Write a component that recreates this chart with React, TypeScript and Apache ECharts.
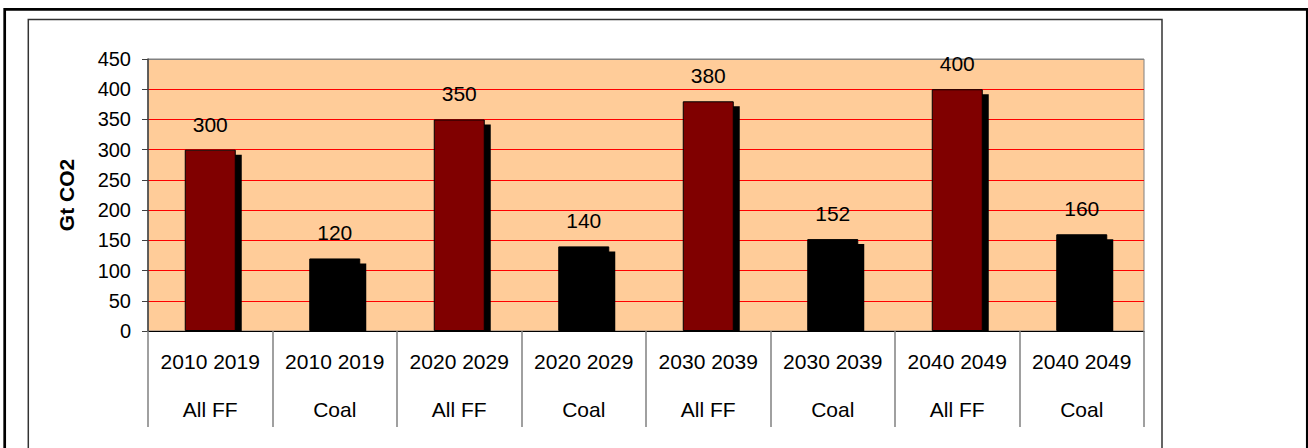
import React, { useEffect, useRef } from "react";
import * as echarts from "echarts";

const periods = ["2010 2019", "2010 2019", "2020 2029", "2020 2029", "2030 2039", "2030 2039", "2040 2049", "2040 2049"];
const fuels = ["All FF", "Coal", "All FF", "Coal", "All FF", "Coal", "All FF", "Coal"];
const values = [300, 120, 350, 140, 380, 152, 400, 160];
const fuelColors: Record<string, string> = { "All FF": "#800000", Coal: "#000000" };
const yTicks = { min: 0, max: 450, interval: 50 };

const FONT = 'Arial, "Liberation Sans", sans-serif';
const BAR_W = 51;
const SH_X = 6;
const SH_Y = 5;

export default function App() {
  const ref = useRef<HTMLDivElement>(null);
  useEffect(() => {
    if (!ref.current) return;
    const chart = echarts.init(ref.current, undefined, { renderer: "svg" });
    const splitColors = ["#000000", "#FF0000", "#FF0000", "#FF0000", "#FF0000", "#FF0000", "#FF0000", "#FF0000", "#FF0000", "#808080"];
    chart.setOption({
      animation: false,
      backgroundColor: "#ffffff",
      textStyle: { fontFamily: FONT },
      graphic: [
        { type: "rect", shape: { x: 4.7, y: 9.3, width: 1302.6, height: 500 }, style: { fill: "none", stroke: "#000", lineWidth: 2.7 }, z: 0 },
        { type: "rect", shape: { x: 28.3, y: 19.5, width: 1133.7, height: 500 }, style: { fill: "none", stroke: "#333", lineWidth: 1.5 }, z: 0 },
      ],
      grid: {
        left: 148, right: 164, top: 59, bottom: 117,
        show: true, backgroundColor: "#FFCC99", borderColor: "#808080", borderWidth: 1,
      },
      xAxis: [
        {
          type: "category",
          data: periods.map((p, i) => p + "|" + i),
          axisLine: { lineStyle: { color: "#000", width: 1 } },
          axisTick: { show: true, interval: 0, length: 96, lineStyle: { color: "#808080", width: 1.5 } },
          axisLabel: { interval: 0, margin: 20, fontSize: 21, color: "#000", fontFamily: FONT, formatter: (v: string) => v.split("|")[0] },
        },
        {
          type: "category",
          position: "bottom",
          data: fuels.map((f, i) => f + "|" + i),
          axisLine: { show: false },
          axisTick: { show: false },
          axisLabel: { interval: 0, margin: 68, fontSize: 21, color: "#000", fontFamily: FONT, formatter: (v: string) => v.split("|")[0] },
        },
      ],
      yAxis: {
        type: "value",
        min: yTicks.min, max: yTicks.max, interval: yTicks.interval,
        name: "Gt CO2",
        nameLocation: "middle",
        nameGap: 71,
        nameTextStyle: { fontSize: 21, fontWeight: "bold", color: "#000", fontFamily: FONT },
        axisLine: { show: true, lineStyle: { color: "#404040", width: 1.5 } },
        axisTick: { show: true, length: 6, lineStyle: { color: "#404040" } },
        axisLabel: { margin: 17, fontSize: 20, color: "#000", fontFamily: FONT },
        splitLine: { show: true, lineStyle: { color: splitColors, width: 1 } },
      },
      series: [
        {
          type: "custom",
          xAxisIndex: 0,
          z: 1,
          silent: true,
          data: values.map((v, i) => [i, v]),
          renderItem: (params: any, api: any) => {
            const i = api.value(0);
            const v = api.value(1);
            const top = api.coord([i, v]);
            const base = api.coord([i, 0]);
            return {
              type: "rect",
              shape: { x: top[0] - BAR_W / 2 + SH_X, y: top[1] + SH_Y, width: BAR_W, height: base[1] - top[1] - SH_Y },
              style: { fill: "#000" },
            };
          },
        },
        {
          type: "bar",
          xAxisIndex: 0,
          z: 2,
          barWidth: BAR_W,
          data: values.map((v, i) => ({
            value: v,
            itemStyle: {
              color: fuelColors[fuels[i]],
              borderColor: "#000",
              borderWidth: 1,
            },
          })),
          label: { show: true, position: "top", distance: 15, fontSize: 21, color: "#000", fontFamily: FONT },
        },
      ],
    });
    return () => chart.dispose();
  }, []);
  return <div ref={ref} style={{ position: "fixed", left: 0, top: 0, width: 1308, height: 448 }} />;
}
